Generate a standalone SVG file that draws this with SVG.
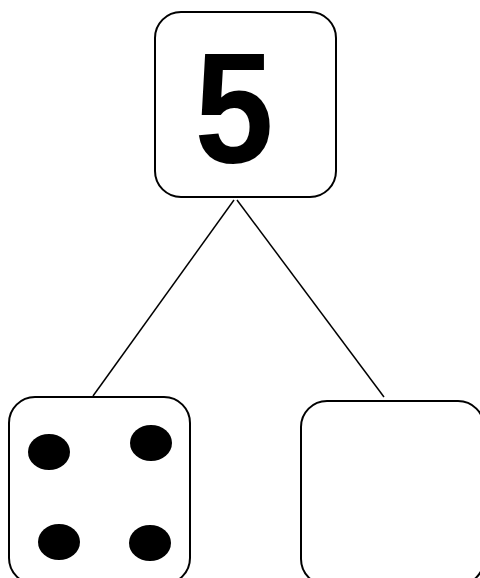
<svg xmlns="http://www.w3.org/2000/svg" width="480" height="578" viewBox="0 0 480 578">
<style>
.box{fill:#fff;stroke:#000;stroke-width:2}
.dot{fill:#000}
.conn{stroke:#000;stroke-width:1.5;fill:none}
.num{font-family:"Liberation Sans",sans-serif;font-weight:bold;font-size:158px;fill:#000;text-anchor:middle}
</style>
<rect width="480" height="578" fill="#fff"/>
<g id="connectors">
<line class="conn" x1="234" y1="200" x2="93" y2="396"/>
<line class="conn" x1="237" y1="200" x2="384" y2="397"/>
</g>
<g id="top">
<rect class="box" x="155" y="12" width="181" height="185" rx="26"/>
<text class="num" transform="translate(234,162) scale(0.9,1)" x="0" y="0">5</text>
</g>
<g id="left">
<rect class="box" x="9" y="397" width="181" height="187" rx="26"/>
<ellipse class="dot" cx="49" cy="452" rx="21" ry="18"/>
<ellipse class="dot" cx="151" cy="443" rx="21" ry="18"/>
<ellipse class="dot" cx="59" cy="542" rx="21" ry="18"/>
<ellipse class="dot" cx="150" cy="543" rx="21" ry="18"/>
</g>
<g id="right">
<rect class="box" x="301" y="401" width="183" height="184" rx="26"/>
</g>
</svg>
